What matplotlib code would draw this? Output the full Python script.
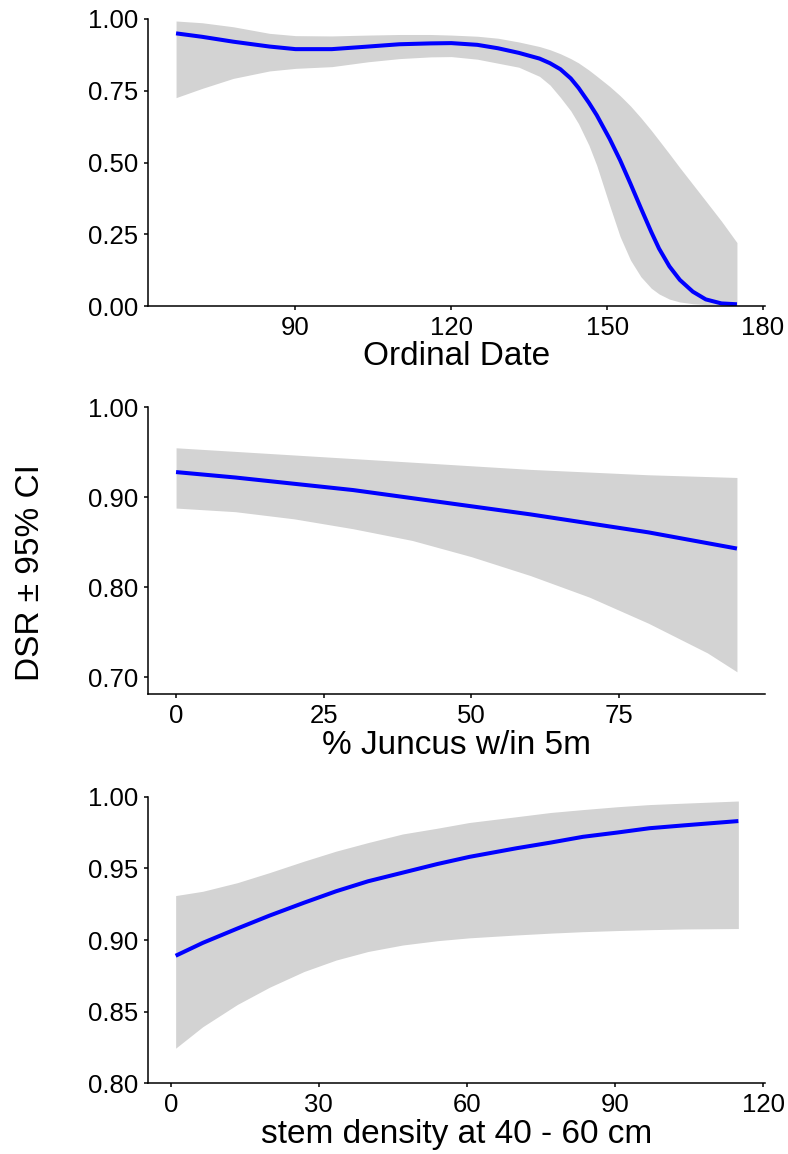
import matplotlib
matplotlib.use("Agg")
import matplotlib.pyplot as plt
from matplotlib.ticker import FormatStrFormatter

plt.rcParams['font.family'] = ['Liberation Sans', 'DejaVu Sans']

# Panel 1: Ordinal Date
date_x = [67, 72, 78, 85, 90, 97, 104, 110, 116, 120, 125, 129, 133, 137, 139,
          141, 143, 144.5, 146.5, 148, 150.5, 152.5, 154.5, 156.5, 158.5, 160,
          162, 164, 166.5, 169, 172, 175]
date_dsr = [0.950, 0.938, 0.921, 0.904, 0.895, 0.895, 0.904, 0.912, 0.915, 0.916,
            0.910, 0.898, 0.882, 0.862, 0.846, 0.825, 0.793, 0.760, 0.708, 0.665,
            0.582, 0.508, 0.426, 0.341, 0.258, 0.200, 0.138, 0.091, 0.050, 0.023,
            0.009, 0.006]
date_hi = [0.993, 0.987, 0.973, 0.950, 0.942, 0.941, 0.944, 0.946, 0.946, 0.944,
           0.940, 0.933, 0.920, 0.904, 0.893, 0.879, 0.862, 0.847, 0.822, 0.801,
           0.765, 0.733, 0.697, 0.656, 0.612, 0.577, 0.530, 0.482, 0.424, 0.366,
           0.296, 0.221]
date_lo = [0.726, 0.758, 0.793, 0.819, 0.828, 0.834, 0.851, 0.862, 0.868, 0.869,
           0.860, 0.846, 0.832, 0.800, 0.770, 0.727, 0.680, 0.635, 0.560, 0.490,
           0.350, 0.242, 0.160, 0.102, 0.062, 0.042, 0.024, 0.014, 0.008, 0.005,
           0.003, 0.003]

# Panel 2: % Juncus within 5 m
junc_x = [0, 10, 20, 30, 40, 50, 60, 70, 80, 90, 95]
junc_dsr = [0.928, 0.922, 0.915, 0.908, 0.899, 0.890, 0.881, 0.871, 0.861, 0.849, 0.843]
junc_hi = [0.955, 0.951, 0.947, 0.943, 0.939, 0.935, 0.931, 0.928, 0.925, 0.923, 0.922]
junc_lo = [0.888, 0.884, 0.876, 0.865, 0.852, 0.834, 0.813, 0.789, 0.760, 0.727, 0.706]

# Panel 3: stem density at 40 - 60 cm
stem_x = [1, 6.5, 13.5, 20, 27, 33.5, 40, 47, 54, 60.5, 70, 77, 83.5, 90.5, 97, 104, 115]
stem_dsr = [0.889, 0.898, 0.908, 0.917, 0.926, 0.934, 0.941, 0.947, 0.953, 0.958,
            0.964, 0.968, 0.972, 0.975, 0.978, 0.980, 0.983]
stem_hi = [0.931, 0.934, 0.940, 0.947, 0.955, 0.962, 0.968, 0.974, 0.978, 0.982,
           0.986, 0.989, 0.991, 0.993, 0.9945, 0.9955, 0.997]
stem_lo = [0.8245, 0.8395, 0.855, 0.867, 0.878, 0.886, 0.892, 0.8965, 0.8995, 0.9015,
           0.9035, 0.9048, 0.9058, 0.9066, 0.9072, 0.9077, 0.908]

panels = [
    dict(x=date_x, y=date_dsr, lo=date_lo, hi=date_hi, xlabel="Ordinal Date",
         xlim=(61.6, 180.4), ylim=(0.0, 1.0), xticks=[90, 120, 150, 180],
         yticks=[0.00, 0.25, 0.50, 0.75, 1.00]),
    dict(x=junc_x, y=junc_dsr, lo=junc_lo, hi=junc_hi, xlabel="% Juncus w/in 5m",
         xlim=(-4.75, 99.75), ylim=(0.681, 1.0), xticks=[0, 25, 50, 75],
         yticks=[0.70, 0.80, 0.90, 1.00]),
    dict(x=stem_x, y=stem_dsr, lo=stem_lo, hi=stem_hi, xlabel="stem density at 40 - 60 cm",
         xlim=(-4.6, 120.4), ylim=(0.80, 1.0), xticks=[0, 30, 60, 90, 120],
         yticks=[0.80, 0.85, 0.90, 0.95, 1.00]),
]

W, H = 788, 1154
fig = plt.figure(figsize=(W / 100, H / 100), dpi=100)
left = 148 / W
width = (765 - 148) / W
tops_bottoms = [(19, 306), (407.3, 694.3), (796.7, 1083.3)]

for p, (t, b) in zip(panels, tops_bottoms):
    ax = fig.add_axes([left, 1 - b / H, width, (b - t) / H])
    ax.fill_between(p['x'], p['lo'], p['hi'], color='#D3D3D3', linewidth=0, zorder=1)
    ax.plot(p['x'], p['y'], color='#0000FF', linewidth=2.9, zorder=2,
            solid_capstyle='butt', solid_joinstyle='round')
    ax.set_xlim(*p['xlim'])
    ax.set_ylim(*p['ylim'])
    ax.set_xticks(p['xticks'])
    ax.set_yticks(p['yticks'])
    ax.yaxis.set_major_formatter(FormatStrFormatter('%.2f'))
    for s in ['top', 'right']:
        ax.spines[s].set_visible(False)
    for s in ['left', 'bottom']:
        ax.spines[s].set_linewidth(1.1)
        ax.spines[s].set_color('black')
    ax.tick_params(axis='both', length=3.2, width=1.1, color='black',
                   labelsize=18.5, labelcolor='black', pad=4)
    ax.set_xlabel(p['xlabel'], fontsize=24, labelpad=1)

fig.text(31 / W, 1 - 572.5 / H, "DSR ± 95% CI", rotation=90, fontsize=24,
         ha='center', va='center')

fig.savefig("out.png", dpi=100)
